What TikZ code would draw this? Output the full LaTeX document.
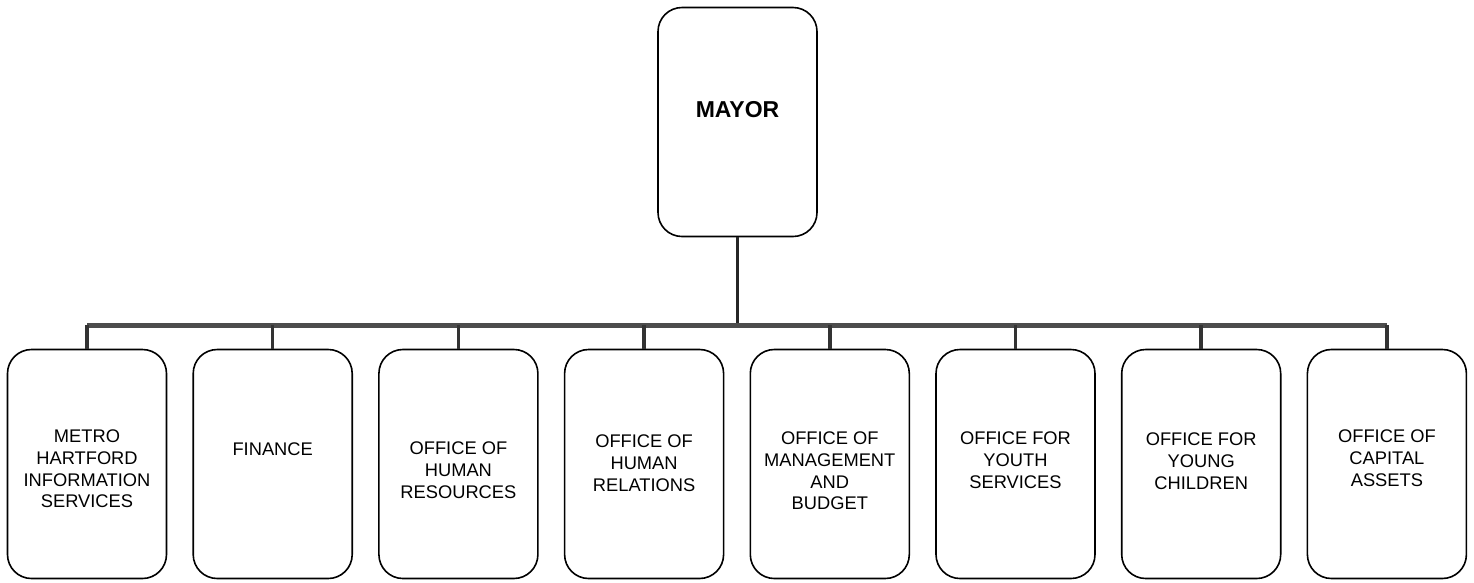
\documentclass[tikz,border=0pt]{standalone}
\usepackage{fontspec}
\setmainfont{Liberation Sans}
\usetikzlibrary{positioning}
\tikzset{
  unit/.style = {draw, line width=1.6pt, rounded corners=24pt, minimum width=159pt, minimum height=229pt, inner sep=0pt},
  unitname/.style = {align=center, inner sep=0pt, font=\fontsize{18.3}{21.7}\selectfont},
  mainbar/.style = {line width=5pt, draw=black!70},
  drop/.style = {line width=3.5pt, draw=black!80},
}
\begin{document}
\begin{tikzpicture}[x=1pt, y=-1pt]
  \useasboundingbox (0,0) rectangle (1474,582);
  \node [unit] (mayor) at (737.5,122) {};
  \node [unitname, font=\fontsize{23}{26}\selectfont\bfseries, below=95pt of mayor.north] (mayortext) {MAYOR};
  \coordinate (barL) at (87,325);
  \coordinate (barR) at (1387,325);
  \draw [line width=2.5pt, draw=black!85] (mayor.south) -- (mayor.south |- barL);
  \draw [mainbar] (barL) -- (barR);
  \foreach \i/\off/\txt in {1/81pt/{METRO\\HARTFORD\\INFORMATION\\SERVICES},
                            2/94pt/{FINANCE},
                            3/93pt/{OFFICE OF\\HUMAN\\RESOURCES},
                            4/86pt/{OFFICE OF\\HUMAN\\RELATIONS},
                            5/83pt/{OFFICE OF\\MANAGEMENT\\AND\\BUDGET},
                            6/83pt/{OFFICE FOR\\YOUTH\\SERVICES},
                            7/84pt/{OFFICE FOR\\YOUNG\\CHILDREN},
                            8/81pt/{OFFICE OF\\CAPITAL\\ASSETS}} {
    \node [unit] (u\i) at ({87+185.7*(\i-1)},464) {};
    \node [unitname, below=\off of u\i.north] (t\i) {\txt};
    \draw [drop] (u\i.north |- barL) -- (u\i.north);
  }
\end{tikzpicture}
\end{document}
